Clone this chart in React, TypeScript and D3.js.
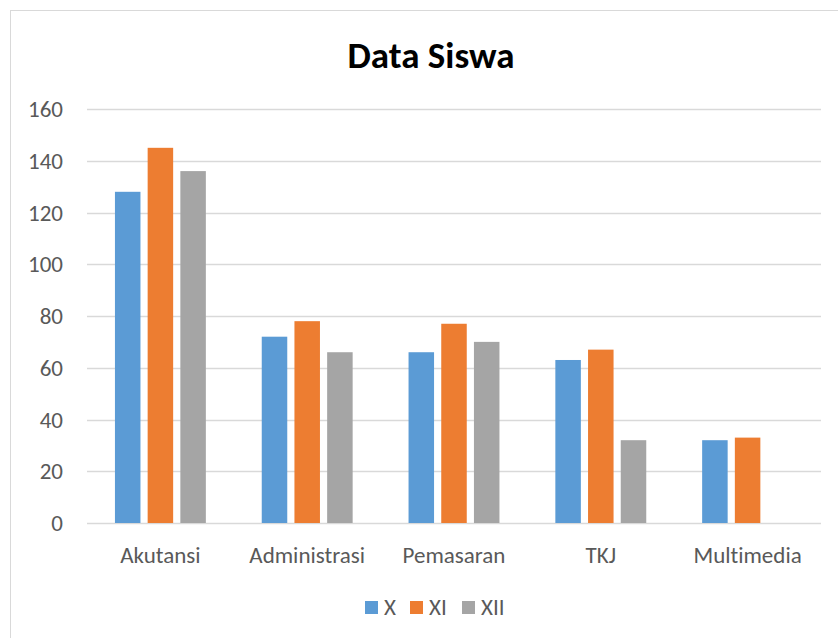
import { useEffect, useRef } from "react";
import * as d3 from "d3";

const categories = ["Akutansi", "Administrasi", "Pemasaran", "TKJ", "Multimedia"];
const seriesNames = ["X", "XI", "XII"];
const valuesX = [128, 72, 66, 63, 32];
const valuesXI = [145, 78, 77, 67, 33];
const valuesXII = [136, 66, 70, 32, 0];
const yTicks = [0, 20, 40, 60, 80, 100, 120, 140, 160];
const colors = ["#5B9BD5", "#ED7D31", "#A5A5A5"];

export default function App() {
  const ref = useRef<SVGSVGElement>(null);

  useEffect(() => {
    if (!ref.current) return;
    const svg = d3.select(ref.current);
    svg.selectAll("*").remove();

    const width = 838;
    const height = 638;
    const margin = { top: 109, right: 17, bottom: 115, left: 87 };
    const font = "Carlito, Calibri, 'Open Sans', sans-serif";
    const textColor = "#595959";
    const labelSize = 23;

    const series = [valuesX, valuesXI, valuesXII];
    const data = categories.map((c, i) => ({
      category: c,
      values: seriesNames.map((s, j) => ({ name: s, value: series[j][i] })),
    }));

    // chart frame
    svg
      .append("rect")
      .attr("x", 10.5)
      .attr("y", 10.5)
      .attr("width", width)
      .attr("height", height)
      .attr("fill", "#fff")
      .attr("stroke", "#d9d9d9")
      .attr("stroke-width", 1);

    const x = d3
      .scaleBand()
      .domain(categories)
      .range([margin.left, width - margin.right]);

    const step = 32.7;
    const inner = d3
      .scaleBand()
      .domain(seriesNames)
      .range([(x.bandwidth() - 3 * step) / 2, (x.bandwidth() + 3 * step) / 2])
      .paddingInner(0.22)
      .paddingOuter(0.11);

    const y = d3
      .scaleLinear()
      .domain([0, 160])
      .range([height - margin.bottom, margin.top]);

    // gridlines
    svg
      .append("g")
      .selectAll("line")
      .data(yTicks)
      .join("line")
      .attr("x1", margin.left)
      .attr("x2", width - margin.right)
      .attr("y1", (d) => Math.round(y(d)) + 0.5)
      .attr("y2", (d) => Math.round(y(d)) + 0.5)
      .attr("stroke", "#d9d9d9")
      .attr("stroke-width", 1.3);

    // y tick labels
    svg
      .append("g")
      .selectAll("text")
      .data(yTicks)
      .join("text")
      .attr("x", 63)
      .attr("y", (d) => y(d))
      .attr("dy", "0.35em")
      .attr("text-anchor", "end")
      .attr("font-family", font)
      .attr("font-size", labelSize)
      .attr("fill", textColor)
      .text((d) => d);

    // bars
    const groups = svg
      .append("g")
      .selectAll("g")
      .data(data)
      .join("g")
      .attr("transform", (d) => `translate(${x(d.category)},0)`);

    groups
      .selectAll("rect")
      .data((d) => d.values.filter((v) => v.value > 0))
      .join("rect")
      .attr("x", (d) => inner(d.name) || 0)
      .attr("y", (d) => y(d.value))
      .attr("width", inner.bandwidth())
      .attr("height", (d) => y(0) - y(d.value))
      .attr("fill", (d) => colors[seriesNames.indexOf(d.name)]);

    // x labels
    svg
      .append("g")
      .selectAll("text")
      .data(categories)
      .join("text")
      .attr("x", (d) => (x(d) || 0) + x.bandwidth() / 2)
      .attr("y", 563)
      .attr("text-anchor", "middle")
      .attr("font-family", font)
      .attr("font-size", labelSize)
      .attr("fill", textColor)
      .style("font-variant-ligatures", "none")
      .text((d) => d);

    // title
    svg
      .append("text")
      .attr("x", 431)
      .attr("y", 68)
      .attr("text-anchor", "middle")
      .attr("font-family", font)
      .attr("font-weight", "bold")
      .attr("font-size", 37)
      .attr("fill", "#000")
      .text("Data Siswa");

    // legend
    const legendX = [365, 410, 462];
    const legend = svg
      .append("g")
      .selectAll("g")
      .data(seriesNames)
      .join("g")
      .attr("transform", (_, i) => `translate(${legendX[i]},601)`);
    legend
      .append("rect")
      .attr("width", 13)
      .attr("height", 13)
      .attr("fill", (_, i) => colors[i]);
    legend
      .append("text")
      .attr("x", 19)
      .attr("y", 14)
      .attr("font-family", font)
      .attr("font-size", labelSize)
      .attr("fill", textColor)
      .text((d) => d);
  }, []);

  return (
    <svg
      ref={ref}
      width={838}
      height={638}
      style={{ position: "absolute", left: 0, top: 0, background: "#fff" }}
    />
  );
}
